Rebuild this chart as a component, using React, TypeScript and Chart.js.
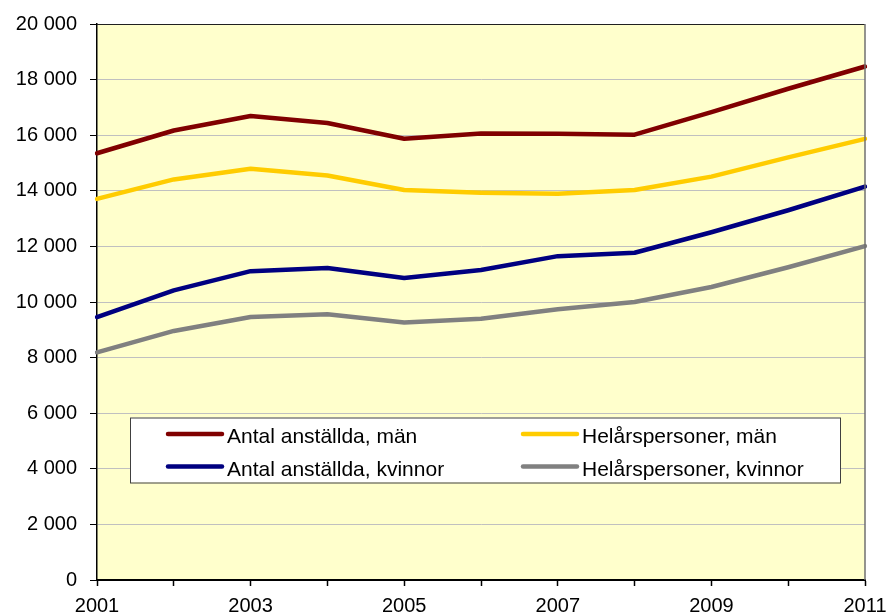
import React, { useEffect, useRef } from 'react';
import { Chart, registerables } from 'chart.js';

Chart.register(...registerables);

const years = ['2001', '2002', '2003', '2004', '2005', '2006', '2007', '2008', '2009', '2010', '2011'];
const antalMan = [15350, 16170, 16690, 16440, 15870, 16060, 16050, 16020, 16830, 17670, 18470];
const helarMan = [13710, 14410, 14790, 14550, 14030, 13930, 13890, 14030, 14510, 15200, 15870];
const antalKvinnor = [9460, 10420, 11110, 11220, 10860, 11150, 11650, 11770, 12510, 13300, 14150];
const helarKvinnor = [8190, 8960, 9460, 9560, 9260, 9400, 9740, 10000, 10540, 11250, 12010];
const seriesLabels = [
  'Antal anställda, män',
  'Helårspersoner, män',
  'Antal anställda, kvinnor',
  'Helårspersoner, kvinnor',
];
const seriesColors = ['#800000', '#FFCC00', '#000080', '#808080'];
const yMin = 0;
const yMax = 20000;
const yStep = 2000;

const FONT = '"Liberation Sans", Arial, sans-serif';

const fmt = (v: number) => String(v).replace(/\B(?=(\d{3})+(?!\d))/g, ' ');

const plotPlugin = {
  id: 'plotDecor',
  beforeDraw(chart: any) {
    const { ctx, chartArea: a } = chart;
    ctx.save();
    ctx.fillStyle = '#FFFFCC';
    ctx.fillRect(a.left, a.top, a.right - a.left, a.bottom - a.top);
    ctx.restore();
  },
  afterDraw(chart: any) {
    const { ctx, chartArea: a } = chart;
    ctx.save();
    ctx.lineWidth = 1;
    ctx.strokeStyle = '#202020';
    ctx.beginPath();
    ctx.moveTo(a.left, a.top + 0.5);
    ctx.lineTo(a.right, a.top + 0.5);
    ctx.stroke();
    ctx.strokeStyle = '#707070';
    ctx.lineWidth = 1.5;
    ctx.beginPath();
    ctx.moveTo(a.right, a.top);
    ctx.lineTo(a.right, a.bottom);
    ctx.stroke();

    const bx = a.left + 33;
    const by = a.bottom - 162.5;
    const bw = 710;
    const bh = 65;
    ctx.fillStyle = '#FFFFFF';
    ctx.fillRect(bx, by, bw, bh);
    ctx.strokeStyle = '#404040';
    ctx.lineWidth = 1;
    ctx.strokeRect(bx + 0.5, by + 0.5, bw, bh);

    const ds = chart.data.datasets;
    const colX = [bx + 38, bx + 393];
    const rowY = [by + 16.5, by + 49];
    ctx.font = `21px ${FONT}`;
    ctx.textBaseline = 'alphabetic';
    ctx.textAlign = 'left';
    ds.forEach((d: any, i: number) => {
      const cx = colX[i % 2];
      const cy = rowY[Math.floor(i / 2)];
      ctx.strokeStyle = d.borderColor;
      ctx.lineWidth = 4.5;
      ctx.lineCap = 'round';
      ctx.beginPath();
      ctx.moveTo(cx, cy);
      ctx.lineTo(cx + 54, cy);
      ctx.stroke();
      ctx.fillStyle = '#000';
      ctx.fillText(d.label, cx + 59, cy + 9);
    });
    ctx.restore();
  },
};

export default function App() {
  const ref = useRef<HTMLCanvasElement | null>(null);
  useEffect(() => {
    document.body.style.margin = '0';
    const data = [antalMan, helarMan, antalKvinnor, helarKvinnor];
    const chart = new Chart(ref.current as HTMLCanvasElement, {
      type: 'line',
      data: {
        labels: years,
        datasets: data.map((vals, i) => ({
          label: seriesLabels[i],
          data: vals,
          borderColor: seriesColors[i],
          backgroundColor: seriesColors[i],
          borderWidth: 4.5,
          pointRadius: 0,
          tension: 0,
          borderJoinStyle: 'round' as const,
          borderCapStyle: 'round' as const,
        })),
      },
      options: {
        responsive: false,
        animation: false,
        layout: { padding: { top: 24, right: 23, left: 0, bottom: 0 } },
        plugins: { legend: { display: false }, tooltip: { enabled: false } },
        scales: {
          x: {
            type: 'category',
            offset: false,
            grid: {
              drawOnChartArea: false,
              drawTicks: true,
              tickLength: 6,
              tickColor: '#000',
              tickWidth: 1.5,
            },
            border: { color: '#000', width: 2 },
            ticks: {
              autoSkip: false,
              maxRotation: 0,
              padding: 8,
              color: '#000',
              font: { family: FONT, size: 20 },
              callback: (_v: any, i: number) => (i % 2 === 0 ? years[i] : ''),
            },
            afterFit: (s: any) => {
              s.height = 34;
              s.paddingLeft = 0;
              s.paddingRight = 0;
            },
          },
          y: {
            min: yMin,
            max: yMax,
            grid: {
              color: '#C0C0C0',
              lineWidth: 1,
              drawTicks: true,
              tickLength: 7,
              tickColor: '#000',
              tickWidth: 1,
            },
            border: { color: '#000', width: 1.5 },
            ticks: {
              stepSize: yStep,
              padding: 13,
              color: '#000',
              font: { family: FONT, size: 20 },
              callback: (v: any) => fmt(Number(v)),
            },
            afterFit: (s: any) => {
              s.width = 97;
              s.paddingTop = 0;
              s.paddingBottom = 0;
            },
          },
        },
      },
      plugins: [plotPlugin],
    });
    return () => chart.destroy();
  }, []);
  return (
    <div style={{ position: 'absolute', left: 0, top: 0, width: 888, height: 614 }}>
      <canvas ref={ref} width={888} height={614} style={{ display: 'block' }} />
    </div>
  );
}
